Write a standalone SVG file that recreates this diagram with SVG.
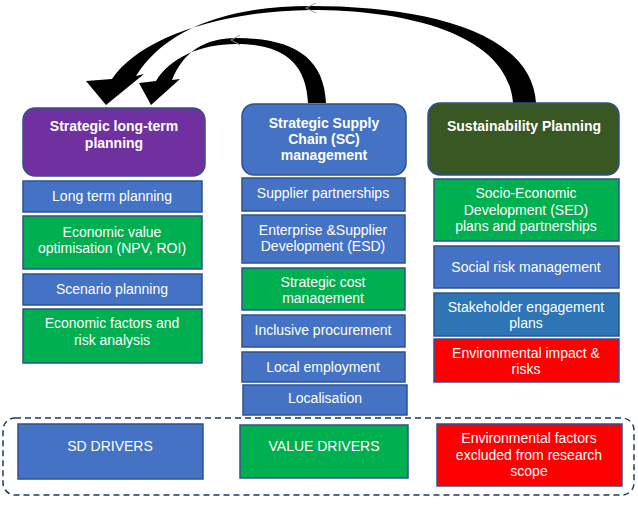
<svg xmlns="http://www.w3.org/2000/svg" width="638" height="506" viewBox="0 0 638 506">
<defs>
<style>
text{font-family:"Liberation Sans",Arial,sans-serif;fill:#fff;font-size:14px;text-anchor:middle}
.h{font-weight:bold}
.blue{fill:#4472C4;stroke:#2F528F;stroke-width:1.5}
.blue2{fill:#2E75B6;stroke:#2F528F;stroke-width:1.5}
.green{fill:#00B050;stroke:#2F528F;stroke-width:1.5}
.red{fill:#FF0000;stroke:#2F528F;stroke-width:1.5}
.chev{fill:none;stroke:#999;stroke-width:1}
</style>
<clipPath id="clipCost"><rect x="241" y="268" width="165" height="36"/></clipPath>
</defs>
<rect width="638" height="506" fill="#fff"/>
<g id="connectors">
<path d="M536,103 C532,30 420,6 311,6 C225,6 165,30 136,76 L144,74 L106,105 L86,81 L112,79 C138,40 215,11 311,10 C410,10 508,35 513,103 Z" fill="#000"/>
<path d="M326,103 C324,55 290,38 236,38 C205,38 183,52 172,80 L180,79 L151,105 L139,83 L156,81 C170,58 200,44 236,44 C280,44 306,60 308,103 Z" fill="#000"/>
<polyline class="chev" points="316,3 306,8 316,13"/>
<polyline class="chev" points="240,35 231,40 240,45"/>
</g>
<g id="hdr-longterm">
<rect x="23" y="108" width="182" height="68" rx="12" fill="#7030A0" stroke="#2F528F" stroke-width="1.5"/>
<text class="h" x="114" y="131">Strategic long-term</text>
<text class="h" x="114" y="148">planning</text>
</g>
<g id="hdr-sc">
<rect x="242" y="104" width="164" height="71" rx="12" fill="#4472C4" stroke="#2F528F" stroke-width="1.5"/>
<text class="h" x="324" y="128">Strategic Supply</text>
<text class="h" x="324" y="144">Chain (SC)</text>
<text class="h" x="324" y="160">management</text>
</g>
<g id="hdr-sust">
<rect x="428" y="103" width="191" height="72" rx="12" fill="#385723" stroke="#2F528F" stroke-width="1.5"/>
<text class="h" x="524" y="131">Sustainability Planning</text>
</g>
<g id="n-longterm"><rect class="blue" x="23" y="181" width="179" height="31"/><text x="112" y="201">Long term planning</text></g>
<g id="n-econvalue"><rect class="green" x="23" y="216" width="179" height="53"/><text x="112" y="237">Economic value</text><text x="112" y="253">optimisation (NPV, ROI)</text></g>
<g id="n-scenario"><rect class="blue" x="23" y="274" width="179" height="31"/><text x="112" y="294">Scenario planning</text></g>
<g id="n-econfactors"><rect class="green" x="23" y="309" width="179" height="54"/><text x="112" y="328">Economic factors and</text><text x="112" y="345">risk analysis</text></g>
<g id="n-supplier"><rect class="blue" x="242" y="178" width="163" height="33"/><text x="323" y="198">Supplier partnerships</text></g>
<g id="n-esd"><rect class="blue" x="242" y="215" width="163" height="48"/><text x="323" y="235">Enterprise &amp;Supplier</text><text x="323" y="251">Development (ESD)</text></g>
<g id="n-cost"><rect class="green" x="242" y="268" width="163" height="42"/><g clip-path="url(#clipCost)"><text x="323" y="287">Strategic cost</text><text x="323" y="303">management</text></g></g>
<g id="n-inclusive"><rect class="blue" x="242" y="315" width="163" height="32"/><text x="323" y="335">Inclusive procurement</text></g>
<g id="n-localemp"><rect class="blue" x="242" y="352" width="163" height="30"/><text x="323" y="372">Local employment</text></g>
<g id="n-localisation"><rect class="blue" x="243" y="385" width="164" height="30"/><text x="325" y="403">Localisation</text></g>
<g id="n-sed"><rect class="green" x="434" y="179" width="185" height="62"/><text x="526" y="198">Socio-Economic</text><text x="526" y="215">Development (SED)</text><text x="526" y="231">plans and partnerships</text></g>
<g id="n-socialrisk"><rect class="blue" x="434" y="246" width="185" height="42"/><text x="526" y="272">Social risk management</text></g>
<g id="n-stakeholder"><rect class="blue2" x="434" y="293" width="185" height="43"/><text x="526" y="312">Stakeholder engagement</text><text x="526" y="328">plans</text></g>
<g id="n-envimpact"><rect class="red" x="434" y="339" width="185" height="43"/><text x="526" y="358">Environmental impact &amp;</text><text x="526" y="374">risks</text></g>
<g id="legend">
<rect x="3" y="418" width="631" height="77" rx="12" fill="none" stroke="#1F3864" stroke-width="1.5" stroke-dasharray="6,4"/>
<g id="n-sd"><rect class="blue" x="18" y="424" width="185" height="55"/><text x="110" y="451">SD DRIVERS</text></g>
<g id="n-value"><rect class="green" x="240" y="425" width="168" height="53"/><text x="324" y="451">VALUE DRIVERS</text></g>
<g id="n-envexcl"><rect class="red" x="437" y="424" width="185" height="62"/><text x="529" y="443">Environmental factors</text><text x="529" y="460">excluded from research</text><text x="529" y="476">scope</text></g>
</g>
</svg>
